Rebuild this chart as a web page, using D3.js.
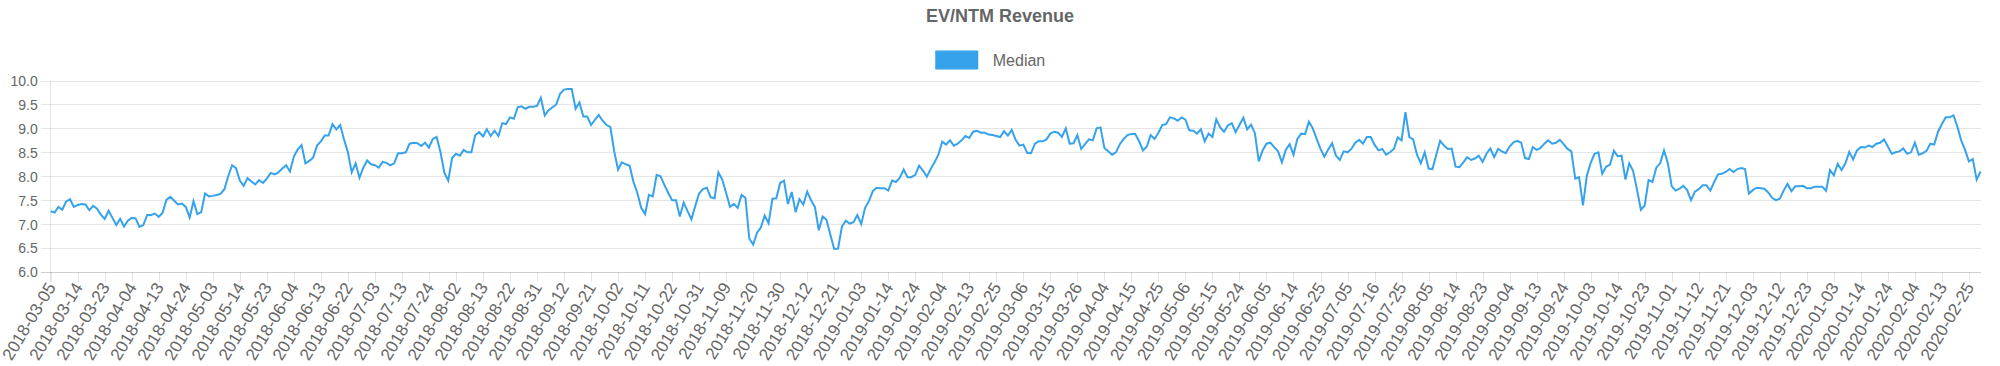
<!DOCTYPE html>
<html>
<head>
<meta charset="utf-8">
<script src="https://cdn.jsdelivr.net/npm/d3@7/dist/d3.min.js"></script>
<style>
  html, body { margin: 0; padding: 0; background: #fff; }
  svg { display: block; }
  text { font-family: "Liberation Sans", Arial, Helvetica, sans-serif; }
</style>
</head>
<body>
<svg id="chart" width="2000" height="366"></svg>
<script>
// ---------------- DATA ----------------
const chartTitle = "EV/NTM Revenue";
const seriesName = "Median";
const startDate = "2018-03-05";
const endDate = "2020-02-28";
// NYSE market closures within the range (trading-day categories skip these)
const holidays = [
  "2018-03-30","2018-05-28","2018-07-04","2018-09-03","2018-11-22","2018-12-05","2018-12-25",
  "2019-01-01","2019-01-21","2019-02-18","2019-04-19","2019-05-27","2019-07-04","2019-09-02",
  "2019-11-28","2019-12-25","2020-01-01","2020-01-20","2020-02-17"
];
const yTicks = [6.0, 6.5, 7.0, 7.5, 8.0, 8.5, 9.0, 9.5, 10.0];
const tickEvery = 7;

// Median values, one per trading day
const medianValues = [
  7.27,7.24,7.36,7.30,7.47,7.52,7.36,7.40,7.42,7.41,
  7.29,7.38,7.32,7.20,7.11,7.28,7.13,6.98,7.11,6.95,
  7.07,7.13,7.12,6.94,6.98,7.19,7.19,7.22,7.15,7.24,
  7.51,7.57,7.49,7.41,7.43,7.36,7.14,7.48,7.21,7.25,
  7.64,7.58,7.59,7.61,7.63,7.73,8.00,8.23,8.17,7.91,
  7.80,7.96,7.89,7.83,7.92,7.86,7.95,8.07,8.04,8.08,
  8.16,8.23,8.10,8.41,8.56,8.65,8.27,8.32,8.39,8.64,
  8.73,8.85,8.85,9.09,8.98,9.07,8.77,8.50,8.08,8.27,
  7.97,8.18,8.33,8.25,8.23,8.18,8.30,8.28,8.23,8.27,
  8.48,8.48,8.50,8.68,8.70,8.69,8.63,8.70,8.60,8.78,
  8.82,8.50,8.07,7.91,8.38,8.47,8.43,8.55,8.50,8.50,
  8.86,8.92,8.83,8.98,8.84,8.95,8.84,9.11,9.09,9.23,
  9.20,9.44,9.46,9.41,9.45,9.45,9.47,9.64,9.27,9.38,
  9.44,9.50,9.73,9.81,9.82,9.82,9.41,9.54,9.25,9.25,
  9.07,9.18,9.28,9.16,9.07,9.03,8.52,8.14,8.29,8.25,
  8.22,7.88,7.65,7.34,7.21,7.61,7.58,8.03,8.00,7.82,
  7.65,7.50,7.50,7.16,7.45,7.27,7.10,7.38,7.64,7.73,
  7.76,7.56,7.54,8.08,7.93,7.65,7.36,7.42,7.34,7.61,
  7.55,6.70,6.57,6.82,6.93,7.18,7.02,7.53,7.54,7.86,
  7.91,7.42,7.67,7.25,7.52,7.41,7.68,7.50,7.36,6.87,
  7.16,7.09,6.78,6.48,6.49,6.95,7.07,7.01,7.04,7.19,
  7.00,7.34,7.48,7.69,7.76,7.75,7.75,7.70,7.91,7.88,
  7.97,8.14,7.98,7.98,8.03,8.22,8.12,7.99,8.15,8.29,
  8.45,8.72,8.66,8.75,8.64,8.68,8.75,8.84,8.80,8.93,
  8.95,8.91,8.91,8.87,8.86,8.84,8.82,8.94,8.85,8.97,
  8.76,8.64,8.66,8.49,8.48,8.68,8.73,8.73,8.77,8.89,
  8.93,8.91,8.82,9.00,8.68,8.69,8.86,8.57,8.67,8.77,
  8.75,9.00,9.02,8.59,8.52,8.45,8.50,8.67,8.78,8.86,
  8.88,8.88,8.73,8.54,8.62,8.86,8.78,8.91,9.07,9.09,
  9.23,9.21,9.16,9.23,9.18,8.96,8.95,8.89,8.98,8.73,
  8.89,8.82,9.19,9.02,8.93,9.06,9.11,8.92,9.07,9.22,
  8.98,9.08,8.90,8.31,8.54,8.68,8.70,8.61,8.52,8.29,
  8.55,8.67,8.45,8.78,8.89,8.88,9.14,9.00,8.78,8.57,
  8.41,8.56,8.69,8.43,8.34,8.52,8.50,8.57,8.70,8.76,
  8.68,8.82,8.82,8.66,8.54,8.57,8.45,8.50,8.57,8.81,
  8.75,9.34,8.82,8.77,8.45,8.27,8.50,8.16,8.15,8.45,
  8.74,8.64,8.57,8.58,8.20,8.19,8.29,8.40,8.34,8.37,
  8.43,8.30,8.47,8.58,8.40,8.57,8.52,8.48,8.62,8.71,
  8.74,8.70,8.38,8.36,8.61,8.55,8.59,8.68,8.75,8.68,
  8.70,8.76,8.67,8.57,8.52,7.95,7.98,7.39,8.01,8.28,
  8.47,8.50,8.05,8.20,8.24,8.53,8.42,8.43,7.93,8.27,
  8.11,7.72,7.30,7.39,7.92,7.88,8.18,8.27,8.54,8.27,
  7.79,7.70,7.74,7.80,7.71,7.50,7.68,7.73,7.81,7.81,
  7.70,7.88,8.04,8.05,8.09,8.15,8.09,8.15,8.17,8.15,
  7.64,7.71,7.76,7.75,7.74,7.66,7.55,7.50,7.53,7.70,
  7.84,7.69,7.79,7.79,7.80,7.75,7.75,7.78,7.78,7.78,
  7.70,8.13,8.02,8.26,8.13,8.27,8.51,8.35,8.54,8.61,
  8.60,8.64,8.61,8.68,8.70,8.77,8.62,8.47,8.50,8.52,
  8.58,8.47,8.50,8.70,8.45,8.48,8.53,8.68,8.66,8.93,
  9.09,9.23,9.23,9.27,9.04,8.75,8.55,8.31,8.36,7.93,
  8.10
];

// ---------------- CATEGORIES (trading days) ----------------
const fmt = d3.utcFormat("%Y-%m-%d");
const holidaySet = new Set(holidays);
const categories = d3.utcDays(new Date(startDate + "T00:00:00Z"), d3.utcDay.offset(new Date(endDate + "T00:00:00Z"), 1))
  .filter(d => d.getUTCDay() !== 0 && d.getUTCDay() !== 6)
  .map(fmt)
  .filter(s => !holidaySet.has(s));

const data = categories.map((c, i) => ({ c, v: medianValues[i] })).filter(d => d.v != null);

// ---------------- LAYOUT ----------------
const W = 2000, H = 366;
const plot = { left: 50.7, right: 1980.5, top: 80.5, bottom: 272 };
const gridColor = "rgba(0,0,0,0.1)";
const textColor = "#666";
const lineColor = "rgb(54,162,235)";
const tickLen = 10;
const yFont = 14;
const xFont = 17;
const xAngle = -59;

const svg = d3.select("#chart");

const x = d3.scalePoint().domain(categories).range([plot.left, plot.right]);
const y = d3.scaleLinear().domain([6, 10]).range([plot.bottom, plot.top]);

const tickCats = categories.filter((c, i) => i % tickEvery === 0);

// Horizontal grid + y tick marks
const yAxis = d3.axisLeft(y).tickValues(yTicks).tickFormat(d3.format(".1f"))
  .tickSizeInner(-(plot.right - plot.left)).tickSizeOuter(0).tickPadding(0);
const gy = svg.append("g").attr("transform", `translate(${plot.left},0)`).call(yAxis);
gy.select(".domain").remove();
gy.selectAll(".tick line").attr("stroke", gridColor).attr("x1", -tickLen).attr("shape-rendering", "crispEdges");
gy.selectAll(".tick text").attr("x", -tickLen - 3).attr("fill", textColor)
  .style("font-size", yFont + "px").attr("dy", "0.35em");

// Vertical grid + x ticks
const xAxis = d3.axisBottom(x).tickValues(tickCats).tickSizeInner(-(plot.bottom - plot.top)).tickSizeOuter(0);
const gx = svg.append("g").attr("transform", `translate(0,${plot.bottom})`).call(xAxis);
gx.select(".domain").remove();
gx.selectAll(".tick line").attr("stroke", gridColor).attr("y2", tickLen).attr("shape-rendering", "crispEdges");
gx.selectAll(".tick text")
  .attr("fill", textColor)
  .style("font-size", xFont + "px")
  .attr("text-anchor", "end")
  .attr("y", 0)
  .attr("dy", "0.35em")
  .attr("transform", `translate(0,${tickLen + 2}) rotate(${xAngle})`);

// Axis borders (slightly darker, as in the reference)
svg.append("line").attr("x1", plot.left).attr("x2", plot.left).attr("y1", plot.top).attr("y2", plot.bottom + tickLen)
  .attr("stroke", gridColor).attr("shape-rendering", "crispEdges");
svg.append("line").attr("x1", plot.left - tickLen).attr("x2", plot.right).attr("y1", plot.bottom).attr("y2", plot.bottom)
  .attr("stroke", gridColor).attr("shape-rendering", "crispEdges");

// Line
const line = d3.line().x(d => x(d.c)).y(d => y(d.v));
svg.append("path").datum(data)
  .attr("d", line)
  .attr("fill", "none")
  .attr("stroke", lineColor)
  .attr("stroke-width", 2)
  .attr("stroke-linejoin", "miter");

// Title
svg.append("text").attr("x", W / 2).attr("y", 16).attr("dy", "0.35em")
  .attr("text-anchor", "middle").attr("fill", textColor)
  .style("font-size", "18px").style("font-weight", "bold")
  .text(chartTitle);

// Legend
const legendFont = 16;
const boxW = 40, boxH = legendFont;
const legendText = svg.append("text").attr("fill", textColor).style("font-size", legendFont + "px").text(seriesName);
const tw = legendText.node().getComputedTextLength();
const totalW = boxW + legendFont / 2 + tw + 10;
const textX = W / 2 - totalW / 2 + boxW + legendFont / 2;
const ly = 60;
svg.append("rect").attr("x", textX - 56).attr("y", ly - boxH / 2).attr("width", boxW).attr("height", boxH)
  .attr("fill", lineColor).attr("stroke", lineColor).attr("stroke-width", 3);
legendText.attr("x", textX).attr("y", ly).attr("dy", "0.35em");
</script>
</body>
</html>
